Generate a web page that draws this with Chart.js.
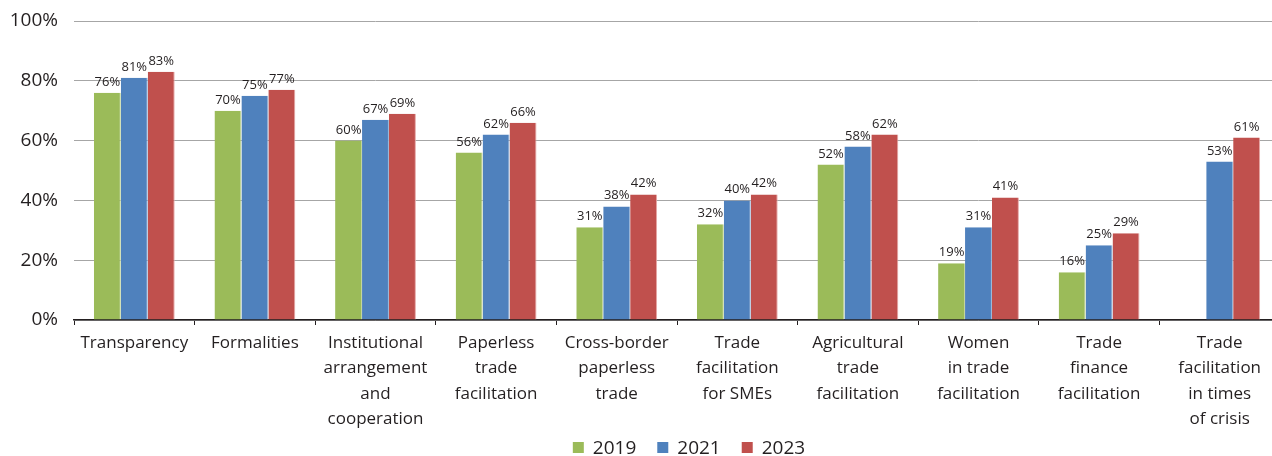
<!DOCTYPE html>
<html><head><meta charset="utf-8">
<script src="https://cdn.jsdelivr.net/npm/chart.js@4.4.1/dist/chart.umd.min.js"></script>
<style>
html,body{margin:0;padding:0;background:#fff;overflow:hidden;}
#wrap{width:1280px;height:456px;position:relative;}
</style></head>
<body><div id="wrap"><canvas id="c" width="1280" height="456"></canvas></div>
<script>
const categories = [
  "Transparency",
  "Formalities",
  ["Institutional","arrangement","and","cooperation"],
  ["Paperless","trade","facilitation"],
  ["Cross-border","paperless","trade"],
  ["Trade","facilitation","for SMEs"],
  ["Agricultural","trade","facilitation"],
  ["Women","in trade","facilitation"],
  ["Trade","finance","facilitation"],
  ["Trade","facilitation","in times","of crisis"]
];
const series2019 = [76, 70, 60, 56, 31, 32, 52, 19, 16, null];
const series2021 = [81, 75, 67, 62, 38, 40, 58, 31, 25, 53];
const series2023 = [83, 77, 69, 66, 42, 42, 62, 41, 29, 61];
const seriesNames = ["2019", "2021", "2023"];
const yTicks = [0, 20, 40, 60, 80, 100];

const FONT = "'Open Sans', 'Noto Sans', sans-serif";
const TXT = "#231f20";

const labelPlugin = {
  id: 'barLabels',
  afterDatasetsDraw(chart) {
    const ctx = chart.ctx;
    ctx.save();
    ctx.font = "13px " + FONT;
    ctx.fillStyle = TXT;
    ctx.textAlign = 'center';
    ctx.textBaseline = 'alphabetic';
    chart.data.datasets.forEach((ds, i) => {
      const meta = chart.getDatasetMeta(i);
      meta.data.forEach((bar, j) => {
        const v = ds.data[j];
        if (v === null || v === undefined) return;
        ctx.fillText(v + '%', bar.x, bar.y - 7);
      });
    });
    ctx.restore();
  }
};

const legendPlugin = {
  id: 'bottomLegend',
  afterDraw(chart) {
    const ctx = chart.ctx;
    ctx.save();
    ctx.font = "19px " + FONT;
    const box = 11, gapText = 9, gapItem = 21;
    const items = chart.data.datasets.map(ds => ({text: ds.label, color: ds.backgroundColor, w: ctx.measureText(ds.label).width}));
    let total = 0;
    items.forEach((it, i) => { total += box + gapText + it.w + (i < items.length - 1 ? gapItem : 0); });
    const cx = 689, cy = 447.5;
    let x = cx - total / 2;
    ctx.textBaseline = 'middle';
    ctx.textAlign = 'left';
    items.forEach(it => {
      ctx.fillStyle = it.color;
      ctx.fillRect(x, cy - box / 2, box, box);
      x += box + gapText;
      ctx.fillStyle = TXT;
      ctx.fillText(it.text, x, cy + 1);
      x += it.w + gapItem;
    });
    ctx.restore();
  }
};

new Chart(document.getElementById('c'), {
  type: 'bar',
  data: {
    labels: categories,
    datasets: [
      {label: seriesNames[0], data: series2019, backgroundColor: '#9bbb59', borderColor: '#c3d69b', borderWidth: {right:1}},
      {label: seriesNames[1], data: series2021, backgroundColor: '#4f81bd', borderColor: '#95b3d7', borderWidth: {right:1}},
      {label: seriesNames[2], data: series2023, backgroundColor: '#c0504d', borderColor: '#e6a6a5', borderWidth: {right:1}}
    ]
  },
  options: {
    responsive: false,
    animation: false,
    layout: {padding: {top: 21, right: 0, bottom: 0, left: 0}},
    datasets: {bar: {categoryPercentage: 0.67, barPercentage: 1.0}},
    plugins: {
      tooltip: {enabled: false},
      legend: {display: false}
    },
    scales: {
      x: {
        grid: {drawOnChartArea: false, drawTicks: true, tickLength: 5, color: '#231f20', offset: true},
        border: {display: true, color: '#231f20', width: 1.5},
        ticks: {color: TXT, font: {family: FONT, size: 17, lineHeight: 1.5}, padding: 5, maxRotation: 0, autoSkip: false},
        afterFit(s) { s.height = 136; }
      },
      y: {
        min: 0, max: 100,
        afterBuildTicks(s) { s.ticks = yTicks.map(v => ({value: v})); },
        grid: {color: '#a6a6a6', drawTicks: true, tickLength: 16, tickColor: 'rgba(0,0,0,0)', lineWidth: 1},
        border: {display: false},
        ticks: {color: TXT, font: {family: FONT, size: 19}, padding: 0, callback: v => v + '%'},
        afterFit(s) { s.width = 74; }
      }
    }
  },
  plugins: [labelPlugin, legendPlugin]
});
</script></body></html>
